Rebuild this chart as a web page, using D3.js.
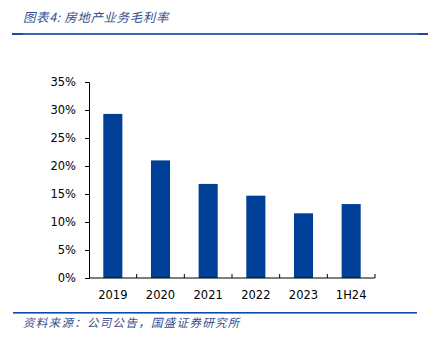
<!DOCTYPE html>
<html><head><meta charset="utf-8">
<script src="https://cdn.jsdelivr.net/npm/d3@7"></script>
<style>body{margin:0;background:#fff}svg{display:block}</style>
</head><body><svg id="c" width="433" height="342"></svg>
<script>
const categories = ["2019","2020","2021","2022","2023","1H24"];
const margins = [29.3, 21.0, 16.8, 14.7, 11.55, 13.2];
const yTicks = [0,5,10,15,20,25,30,35];
const title = "图表4:  房地产业务毛利率";
const source = "资料来源：公司公告，国盛证券研究所";

const svg = d3.select("#c");
const x = d3.scaleBand().domain(categories).range([89,375]).paddingInner(0.6).paddingOuter(0.3);
const y = d3.scaleLinear().domain([0,35]).range([278,82]);

// title & rules
svg.append("text").attr("x",23).attr("y",22).attr("fill","#34508f")
  .attr("font-family","'Noto Sans CJK SC'").attr("font-style","italic").attr("font-size",12.5)
  .attr("letter-spacing",0.6).text(title);
svg.append("rect").attr("x",12).attr("y",33).attr("width",416).attr("height",2).attr("fill","#3a68b4");
svg.append("rect").attr("x",12).attr("y",33).attr("width",11).attr("height",2).attr("fill","#1e4a96");
svg.append("rect").attr("x",418).attr("y",33).attr("width",10).attr("height",2).attr("fill","#1e4a96");
svg.append("rect").attr("x",13).attr("y",312).attr("width",404).attr("height",1.6).attr("fill","#0e4aa8");
svg.append("text").attr("x",23).attr("y",327).attr("fill","#34508f")
  .attr("font-family","'Noto Sans CJK SC'").attr("font-style","italic").attr("font-size",11.5)
  .attr("letter-spacing",1.3).text(source);

// bars
svg.selectAll("rect.bar").data(categories).join("rect").attr("class","bar")
  .attr("x",d=>x(d)).attr("width",x.bandwidth())
  .attr("y",(d,i)=>y(margins[i])).attr("height",(d,i)=>y(0)-y(margins[i]))
  .attr("fill","#003f96");

// y axis
const ya = svg.append("g").attr("transform","translate(89,0)")
  .call(d3.axisLeft(y).tickValues(yTicks).tickFormat(d=>d+"%").tickSizeOuter(0).tickSize(4).tickPadding(9));
// x axis
const bounds = d3.range(categories.length+1).map(i=>89+i*(286/categories.length));
const xa = svg.append("g").attr("transform","translate(0,278)");
xa.append("line").attr("x1",89).attr("x2",375).attr("stroke","#000");
xa.selectAll("line.t").data(bounds.slice(1)).join("line").attr("class","t")
  .attr("x1",d=>d).attr("x2",d=>d).attr("y1",0).attr("y2",-4).attr("stroke","#000");
xa.selectAll("text").data(categories).join("text")
  .attr("x",d=>x(d)+x.bandwidth()/2).attr("y",21).attr("text-anchor","middle").text(d=>d);
svg.selectAll("g text").attr("font-family","'DejaVu Sans'").attr("font-size",11.5).attr("fill","#000");
ya.select(".domain").attr("stroke","#000");
ya.selectAll(".tick line").attr("stroke","#000");
</script></body></html>
